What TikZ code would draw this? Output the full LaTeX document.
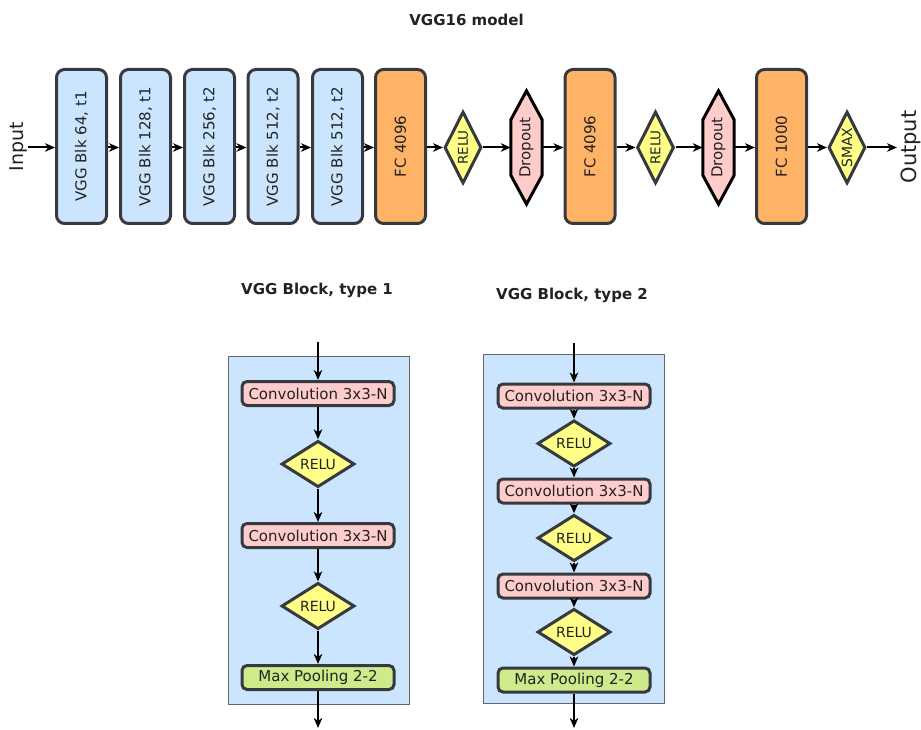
\documentclass[tikz,border=0pt]{standalone}
\usepackage{fontspec}
\setmainfont{DejaVu Sans}
\usepackage{graphicx}
\usetikzlibrary{shapes.geometric,arrows.meta}
\definecolor{strk}{HTML}{36393D}
\definecolor{blueA}{HTML}{CCE5FF}
\definecolor{orangeA}{HTML}{FFB366}
\definecolor{yelA}{HTML}{FFFF88}
\definecolor{pinkA}{HTML}{FFCCCC}
\definecolor{greenA}{HTML}{CDEB8B}
\definecolor{txt}{HTML}{222222}
\definecolor{contline}{HTML}{666666}
\newcommand{\myfs}[1]{\fontsize{#1}{#1}\selectfont}
\newcommand{\myrot}[1]{\rotatebox{90}{#1}}
\pgfdeclarelayer{bg}
\pgfsetlayers{bg,main}
\tikzset{
  bigbox/.style={draw=strk, line width=3pt, rounded corners=8pt, minimum width=50pt, minimum height=154pt, inner sep=0pt, font=\myfs{15}, text=txt},
  vggbox/.style={bigbox, fill=blueA},
  fcbox/.style={bigbox, fill=orangeA},
  topdia/.style={diamond, draw=strk, line width=3pt, fill=yelA, inner sep=0pt, minimum width=37pt, minimum height=72pt, text=txt},
  dropbox/.style={inner sep=0pt, minimum width=31pt, minimum height=113pt, font=\myfs{15}, text=txt},
  hexline/.style={draw=black, line width=3pt, fill=pinkA, line join=miter},
  arr/.style={-{Stealth[length=10pt,width=8.5pt,inset=3pt]}, line width=2pt, black},
  smallbox/.style={draw=strk, line width=3pt, rounded corners=5pt, minimum width=152pt, minimum height=24pt, inner sep=0pt, font=\myfs{15}, text=txt},
  convbox/.style={smallbox, fill=pinkA},
  poolbox/.style={smallbox, fill=greenA},
  smalldia/.style={diamond, draw=strk, line width=3pt, fill=yelA, inner sep=0pt, minimum width=73pt, minimum height=35pt, font=\myfs{14}, text=txt},
  container/.style={draw=contline, fill=blueA, line width=1pt},
  titletext/.style={font=\bfseries\myfs{15}, text=txt},
  iotext/.style={font=\myfs{19}, text=txt, inner sep=0pt}
}
\begin{document}
\begin{tikzpicture}[x=1pt,y=-1pt]
\useasboundingbox (0,0) rectangle (921,730);

% title
\node[titletext] (title) at (466.5,20) {VGG16 model};

% top row
\node[vggbox] (b1) at (81.5,146.5) {\myrot{VGG Blk 64, t1}};
\node[vggbox] (b2) at (145.5,146.5) {\myrot{VGG Blk 128, t1}};
\node[vggbox] (b3) at (209.5,146.5) {\myrot{VGG Blk 256, t2}};
\node[vggbox] (b4) at (273,146.5) {\myrot{VGG Blk 512, t2}};
\node[vggbox] (b5) at (337.5,146.5) {\myrot{VGG Blk 512, t2}};
\node[fcbox] (f1) at (400.5,146.5) {\myrot{FC 4096}};
\node[topdia, label={[rotate=90,font=\myfs{13.5},text=txt]center:RELU}] (r1) at (463,147.5) {};
\node[dropbox] (d1) at (526.5,147.5) {\myrot{Dropout}};
\node[fcbox] (f2) at (590,146.5) {\myrot{FC 4096}};
\node[topdia, label={[rotate=90,font=\myfs{13.5},text=txt]center:RELU}] (r2) at (655.5,147.5) {};
\node[dropbox] (d2) at (718.5,147.5) {\myrot{Dropout}};
\node[fcbox] (f3) at (781.5,146.5) {\myrot{FC 1000}};
\node[topdia, label={[rotate=90,font=\myfs{14},text=txt]center:SMAX}] (sm) at (847,147.5) {};

\begin{pgfonlayer}{bg}
\foreach \d in {d1,d2}{
  \draw[hexline] (\d.north) -- ([yshift=-29pt]\d.north east) -- ([yshift=29pt]\d.south east) -- (\d.south) -- ([yshift=29pt]\d.south west) -- ([yshift=-29pt]\d.north west) -- cycle;
}
\end{pgfonlayer}

\node[iotext] (inp) at (19,147) {\myrot{Input}};
\node[iotext,font=\myfs{21}] (outp) at (911,147) {\myrot{Output}};
\coordinate (inst) at (28,147.5);
\coordinate (outend) at (897,147.5);

\draw[arr] (inst) -- (b1.west |- inst);
\draw[arr] (b1.east |- inst) -- (b2.west |- inst);
\draw[arr] (b2.east |- inst) -- (b3.west |- inst);
\draw[arr] (b3.east |- inst) -- (b4.west |- inst);
\draw[arr] (b4.east |- inst) -- (b5.west |- inst);
\draw[arr] (b5.east |- inst) -- (f1.west |- inst);
\draw[arr] (f1.east |- inst) -- (r1.west);
\draw[arr] (r1.east) -- (d1.west);
\draw[arr] (d1.east) -- (f2.west |- inst);
\draw[arr] (f2.east |- inst) -- (r2.west);
\draw[arr] (r2.east) -- (d2.west);
\draw[arr] (d2.east) -- (f3.west |- inst);
\draw[arr] (f3.east |- inst) -- (sm.west);
\draw[arr] (sm.east) -- (outend);

% block titles
\node[titletext] (t1) at (317,290) {VGG Block, type 1};
\node[titletext] (t2) at (572,295) {VGG Block, type 2};

% containers
\draw[container] (228,356) rectangle (409,704);
\draw[container] (483,354) rectangle (664,703);

% block type 1
\coordinate (a1top) at (318,342);
\coordinate (a1bot) at (318,728);
\node[convbox] (c11) at (318,393.5) {Convolution 3x3-N};
\node[smalldia] (r11) at (318,464) {RELU};
\node[convbox] (c12) at (318,535.5) {Convolution 3x3-N};
\node[smalldia] (r12) at (318,606) {RELU};
\node[poolbox] (p1) at (318,677.5) {Max Pooling 2-2};
\draw[arr] (a1top) -- (c11);
\draw[arr] (c11) -- (r11);
\draw[arr] (r11) -- (c12);
\draw[arr] (c12) -- (r12);
\draw[arr] (r12) -- (p1);
\draw[arr] (p1) -- (a1bot);

% block type 2
\coordinate (a2top) at (574,343);
\coordinate (a2bot) at (574,728);
\node[convbox] (c21) at (574,396) {Convolution 3x3-N};
\node[smalldia] (r21) at (574,443.5) {RELU};
\node[convbox] (c22) at (574,491) {Convolution 3x3-N};
\node[smalldia] (r22) at (574,538) {RELU};
\node[convbox] (c23) at (574,586) {Convolution 3x3-N};
\node[smalldia] (r23) at (574,632) {RELU};
\node[poolbox] (p2) at (574,680) {Max Pooling 2-2};
\draw[arr] (a2top) -- (c21);
\draw[arr] (c21) -- (r21);
\draw[arr] (r21) -- (c22);
\draw[arr] (c22) -- (r22);
\draw[arr] (r22) -- (c23);
\draw[arr] (c23) -- (r23);
\draw[arr] (r23) -- (p2);
\draw[arr] (p2) -- (a2bot);
\end{tikzpicture}
\end{document}
